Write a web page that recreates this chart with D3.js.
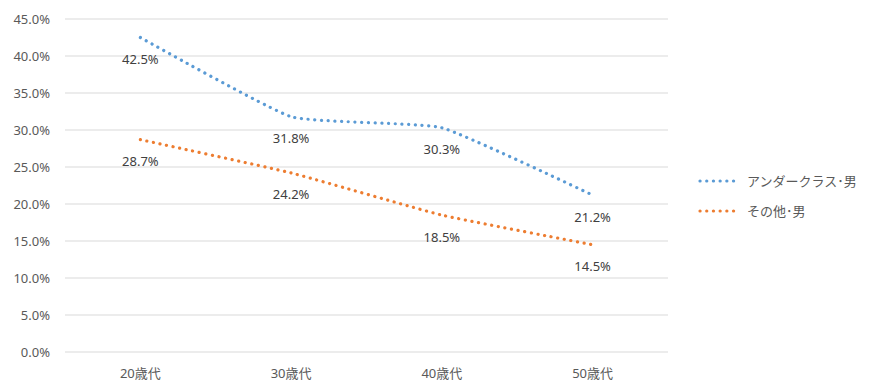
<!DOCTYPE html>
<html>
<head>
<meta charset="utf-8">
<script src="https://cdn.jsdelivr.net/npm/d3@7"></script>
<style>
body{margin:0;background:#fff;}
text{font-family:"Noto Sans","Noto Sans CJK JP",sans-serif;}
</style>
</head>
<body>
<div id="chart-area"></div>
<script>
let categories=["20歳代","30歳代","40歳代","50歳代"];
let seriesNames=["アンダークラス･男","その他･男"];
let underclass=[42.5,31.8,30.3,21.2];
let others=[28.7,24.2,18.5,14.5];
let yTicks=[0,5,10,15,20,25,30,35,40,45];
let colors=["#5b9bd5","#ed7d31"];

let W=885,H=391;
let margin={top:19,left:65,right:217,bottom:39};
let width=W-margin.left-margin.right;
let height=H-margin.top-margin.bottom;

let svg=d3.select("#chart-area").append('svg')
	.attr('width',W)
	.attr('height',H);

let g=svg.append('g')
	.attr("transform","translate("+margin.left+","+margin.top+")");

//---------SCALES--------------
let x=d3.scaleBand()
	.domain(categories)
	.range([0,width]);

let y=d3.scaleLinear()
	.domain([0,45])
	.range([height,0]);

//-------GRID + AXES------------
g.selectAll('.grid').data(yTicks).enter()
	.append('line')
	.attr('x1',0).attr('x2',width)
	.attr('y1',d=>y(d)).attr('y2',d=>y(d))
	.attr('stroke','#d9d9d9')
	.attr('stroke-width',1);

g.selectAll('.ytick').data(yTicks).enter()
	.append('text')
	.attr('x',-15)
	.attr('y',d=>y(d))
	.attr('dy','0.35em')
	.attr('text-anchor','end')
	.attr('font-size','13px')
	.attr('fill','#595959')
	.text(d=>d.toFixed(1)+'%');

g.selectAll('.xtick').data(categories).enter()
	.append('text')
	.attr('x',d=>x(d)+x.bandwidth()/2)
	.attr('y',height+21)
	.attr('dy','0.35em')
	.attr('text-anchor','middle')
	.attr('font-size','13px')
	.attr('fill','#595959')
	.text(d=>d);

//-------LINES------------------
// excel "smoothed" line: nearly straight with rounded joints
let line=d3.line()
	.x((d,i)=>x(categories[i])+x.bandwidth()/2)
	.y(d=>y(d))
	.curve(d3.curveCardinal.tension(0.6));

[underclass,others].forEach(function(vals,k){
	g.append('path')
		.attr('d',line(vals))
		.attr('fill','none')
		.attr('stroke',colors[k])
		.attr('stroke-width',3.2)
		.attr('stroke-linecap','round')
		.attr('stroke-dasharray','0.1 6.6');

	g.selectAll('.lbl'+k).data(vals).enter()
		.append('text')
		.attr('x',(d,i)=>x(categories[i])+x.bandwidth()/2)
		.attr('y',d=>y(d)+22)
		.attr('dy','0.35em')
		.attr('text-anchor','middle')
		.attr('font-size','13px')
		.attr('fill','#404040')
		.text(d=>d.toFixed(1)+'%');
});

//--------LEGEND--------------
let legend=svg.append('g')
	.attr("transform","translate(698,181)");

seriesNames.forEach(function(name,i){
	let row=legend.append('g')
		.attr("transform","translate(0,"+i*30+")");
	row.append('line')
		.attr('x1',2).attr('x2',40)
		.attr('y1',0).attr('y2',0)
		.attr('stroke',colors[i])
		.attr('stroke-width',3.2)
		.attr('stroke-linecap','round')
		.attr('stroke-dasharray','0.1 6.6');
	row.append('text')
		.attr('x',49)
		.attr('y',0)
		.attr('dy','0.35em')
		.attr('font-size','13px')
		.attr('fill','#595959')
		.text(name);
});
</script>
</body>
</html>
